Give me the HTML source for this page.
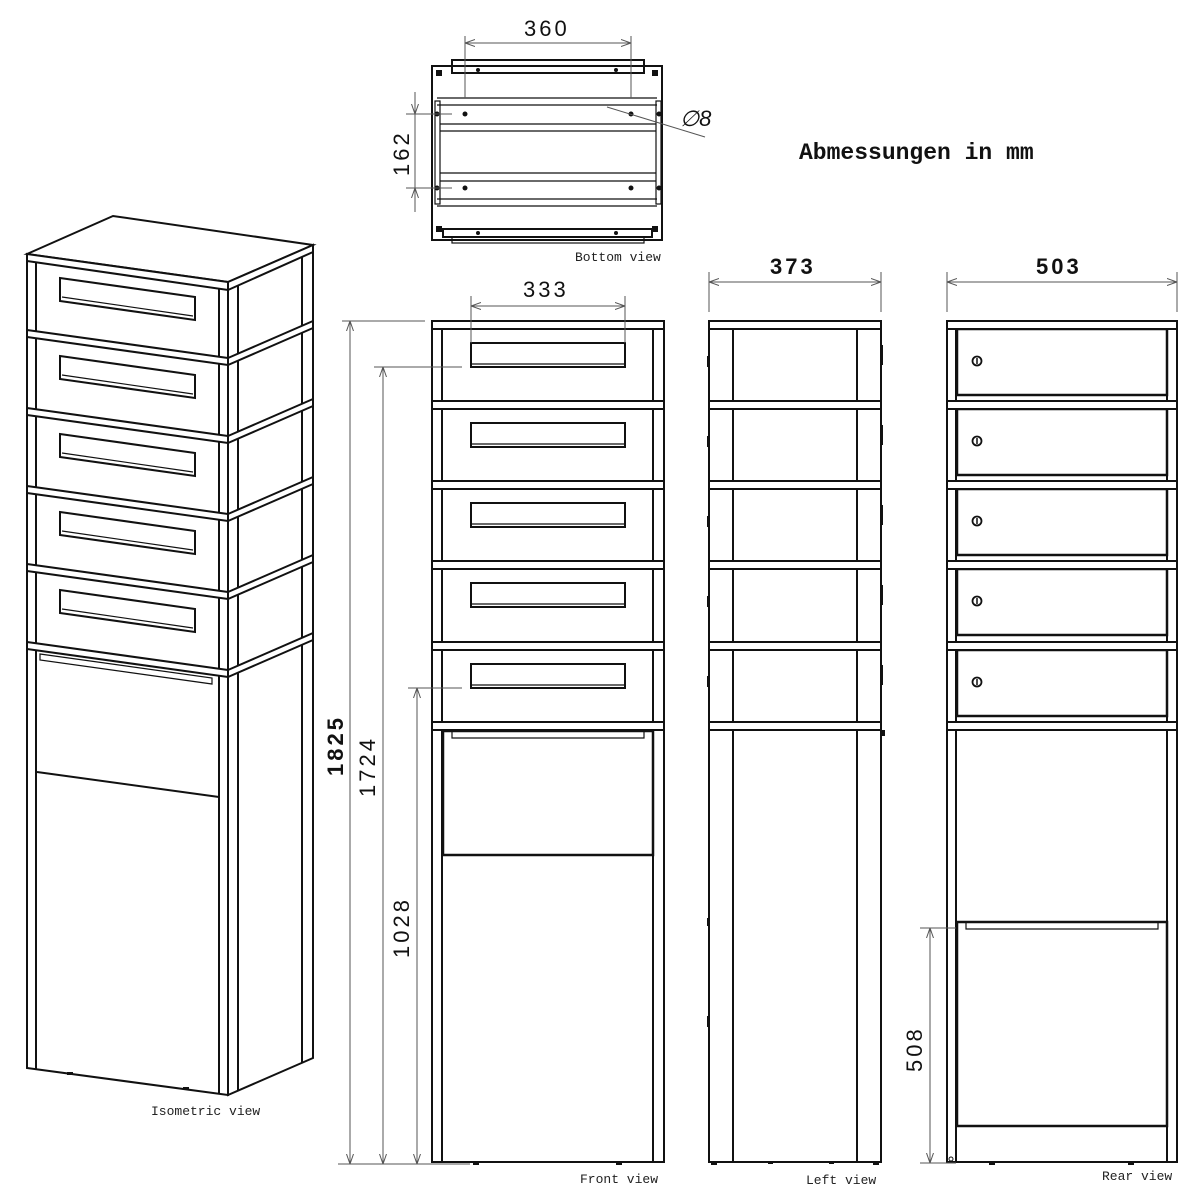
<!DOCTYPE html>
<html><head><meta charset="utf-8"><style>
html,body{margin:0;padding:0;background:#fff;}
svg{display:block;}
.o{fill:#fff;stroke:#111;stroke-width:2;}
.l{fill:none;stroke:#111;stroke-width:2;}
.t{fill:none;stroke:#111;stroke-width:1.2;}
.d{fill:none;stroke:#555;stroke-width:1;}
.lab{font-family:"Liberation Mono",monospace;font-size:13px;fill:#222;}
.dim{font-family:"Liberation Sans",sans-serif;font-size:22px;fill:#111;letter-spacing:3px;}
.dimb{font-family:"Liberation Sans",sans-serif;font-size:22px;font-weight:bold;fill:#111;letter-spacing:3px;}
</style></head><body>
<svg width="1200" height="1200" viewBox="0 0 1200 1200" xmlns="http://www.w3.org/2000/svg">
<defs>
<marker id="a" viewBox="0 0 10 10" refX="10" refY="5" markerWidth="10" markerHeight="10" orient="auto-start-reverse" markerUnits="userSpaceOnUse"><path d="M0,1.5 L10,5 L0,8.5" fill="none" stroke="#555" stroke-width="1"/></marker>
</defs>

<!-- ============ ISOMETRIC ============ -->
<g>
<polygon class="o" points="228,282 313,245 313,1058 228,1095"/>
<polygon class="o" points="27,254 228,282 228,1095 27,1068"/>
<line class="l" x1="36" y1="261" x2="36" y2="1069"/>
<line class="l" x1="219" y1="289" x2="219" y2="1094"/>
<line class="l" x1="238" y1="286" x2="238" y2="1091"/>
<line class="l" x1="302" y1="254" x2="302" y2="1063"/>
<polygon class="o" points="27,254 113,216 313,245 228,282"/>
<polygon class="o" points="27,254 228,282 228,290 27,261"/>
<polygon class="o" points="228,282 313,245 313,252 228,290"/>
<g>
<polygon class="o" points="27,330 228,358 228,365 27,337"/><polygon class="o" points="228,358 313,321 313,328 228,365"/>
<polygon class="o" points="27,408 228,436 228,443 27,415"/><polygon class="o" points="228,436 313,399 313,406 228,443"/>
<polygon class="o" points="27,486 228,514 228,521 27,493"/><polygon class="o" points="228,514 313,477 313,484 228,521"/>
<polygon class="o" points="27,564 228,592 228,599 27,571"/><polygon class="o" points="228,592 313,555 313,562 228,599"/>
<polygon class="o" points="27,642 228,670 228,677 27,649"/><polygon class="o" points="228,670 313,633 313,640 228,677"/>
</g>
<g>
<polygon class="l" points="60,278 195,297 195,320 60,301"/><line class="t" x1="62" y1="297" x2="193" y2="316"/>
<polygon class="l" points="60,356 195,375 195,398 60,379"/><line class="t" x1="62" y1="375" x2="193" y2="394"/>
<polygon class="l" points="60,434 195,453 195,476 60,457"/><line class="t" x1="62" y1="453" x2="193" y2="472"/>
<polygon class="l" points="60,512 195,531 195,554 60,535"/><line class="t" x1="62" y1="531" x2="193" y2="550"/>
<polygon class="l" points="60,590 195,609 195,632 60,613"/><line class="t" x1="62" y1="609" x2="193" y2="628"/>
</g>
<polygon class="t" points="40,654 212,678 212,684 40,660"/>
<line class="l" x1="37" y1="772" x2="219" y2="797"/>
<rect x="67" y="1072" width="6" height="3" fill="#111"/>
<rect x="183" y="1087" width="6" height="3" fill="#111"/>
</g>
<text class="lab" x="151" y="1115">Isometric view</text>

<!-- ============ BOTTOM VIEW ============ -->
<g>
<rect class="o" x="432" y="66" width="230" height="174"/>
<rect class="l" x="452" y="60" width="192" height="13"/>
<line class="t" x1="437" y1="98" x2="657" y2="98"/>
<line class="t" x1="437" y1="105" x2="657" y2="105"/>
<line class="t" x1="440" y1="124" x2="656" y2="124"/>
<line class="t" x1="440" y1="131" x2="656" y2="131"/>
<line class="t" x1="440" y1="173" x2="656" y2="173"/>
<line class="t" x1="440" y1="181" x2="656" y2="181"/>
<line class="t" x1="437" y1="199" x2="657" y2="199"/>
<line class="t" x1="437" y1="206" x2="657" y2="206"/>
<rect class="t" x="435" y="101" width="5" height="103" fill="none"/>
<rect class="t" x="656" y="101" width="5" height="103" fill="none"/>
<rect class="l" x="443" y="229" width="209" height="8"/>
<rect class="t" x="452" y="237" width="192" height="6"/>
<g fill="#111">
<circle cx="465" cy="114" r="2.5"/><circle cx="631" cy="114" r="2.5"/><circle cx="465" cy="188" r="2.5"/><circle cx="631" cy="188" r="2.5"/>
<circle cx="437" cy="114" r="2.5"/><circle cx="659" cy="114" r="2.5"/><circle cx="437" cy="188" r="2.5"/><circle cx="659" cy="188" r="2.5"/>
<circle cx="478" cy="70" r="2"/><circle cx="616" cy="70" r="2"/><circle cx="478" cy="233" r="2"/><circle cx="616" cy="233" r="2"/>
<rect x="436" y="70" width="6" height="6"/><rect x="652" y="70" width="6" height="6"/><rect x="436" y="226" width="6" height="6"/><rect x="652" y="226" width="6" height="6"/>
</g>
<line class="d" x1="465" y1="36" x2="465" y2="98"/>
<line class="d" x1="631" y1="36" x2="631" y2="98"/>
<line class="d" x1="465" y1="43" x2="631" y2="43" marker-start="url(#a)" marker-end="url(#a)"/>
<line class="d" x1="406" y1="114" x2="452" y2="114"/>
<line class="d" x1="406" y1="188" x2="452" y2="188"/>
<line class="d" x1="415" y1="92" x2="415" y2="114" marker-end="url(#a)"/>
<line class="d" x1="415" y1="212" x2="415" y2="188" marker-end="url(#a)"/>
<line class="d" x1="415" y1="114" x2="415" y2="188"/>
<line class="d" x1="607" y1="107" x2="705" y2="137"/>
</g>
<text class="dim" x="524" y="36">360</text>
<text class="dim" transform="translate(409,176) rotate(-90)">162</text>
<text x="680" y="126" font-family="Liberation Sans,sans-serif" font-size="22" font-style="italic" fill="#111">∅8</text>
<text class="lab" x="575" y="261">Bottom view</text>

<text x="799" y="159" font-family="Liberation Mono,monospace" font-size="23" font-weight="bold" fill="#111">Abmessungen in mm</text>

<!-- ============ FRONT VIEW ============ -->
<g>
<rect class="o" x="432" y="321" width="232" height="841"/>
<line class="l" x1="442" y1="321" x2="442" y2="1162"/>
<line class="l" x1="653" y1="321" x2="653" y2="1162"/>
<rect class="o" x="432" y="321" width="232" height="8"/>
<rect class="o" x="432" y="401" width="232" height="8"/>
<rect class="o" x="432" y="481" width="232" height="8"/>
<rect class="o" x="432" y="561" width="232" height="8"/>
<rect class="o" x="432" y="642" width="232" height="8"/>
<rect class="o" x="432" y="722" width="232" height="8"/>
<g>
<rect class="l" x="471" y="343" width="154" height="24"/><line class="t" x1="472" y1="364" x2="624" y2="364"/>
<rect class="l" x="471" y="423" width="154" height="24"/><line class="t" x1="472" y1="444" x2="624" y2="444"/>
<rect class="l" x="471" y="503" width="154" height="24"/><line class="t" x1="472" y1="524" x2="624" y2="524"/>
<rect class="l" x="471" y="583" width="154" height="24"/><line class="t" x1="472" y1="604" x2="624" y2="604"/>
<rect class="l" x="471" y="664" width="154" height="24"/><line class="t" x1="472" y1="685" x2="624" y2="685"/>
</g>
<rect x="443" y="731" width="210" height="124" fill="none" stroke="#111" stroke-width="2.5"/>
<polyline class="t" points="452,731 452,738 644,738 644,731"/>
<rect x="473" y="1162" width="6" height="3" fill="#111"/><rect x="616" y="1162" width="6" height="3" fill="#111"/>
</g>
<line class="d" x1="471" y1="296" x2="471" y2="343"/>
<line class="d" x1="625" y1="296" x2="625" y2="343"/>
<line class="d" x1="471" y1="306" x2="625" y2="306" marker-start="url(#a)" marker-end="url(#a)"/>
<text class="dim" x="523" y="297">333</text>
<line class="d" x1="342" y1="321" x2="425" y2="321"/>
<line class="d" x1="374" y1="367" x2="462" y2="367"/>
<line class="d" x1="408" y1="688" x2="462" y2="688"/>
<line class="d" x1="338" y1="1164" x2="470" y2="1164"/>
<line class="d" x1="350" y1="321" x2="350" y2="1164" marker-start="url(#a)" marker-end="url(#a)"/>
<line class="d" x1="383" y1="367" x2="383" y2="1164" marker-start="url(#a)" marker-end="url(#a)"/>
<line class="d" x1="417" y1="688" x2="417" y2="1164" marker-start="url(#a)" marker-end="url(#a)"/>
<text class="dimb" transform="translate(343,776) rotate(-90)">1825</text>
<text class="dim" transform="translate(375,797) rotate(-90)">1724</text>
<text class="dim" transform="translate(409,958) rotate(-90)">1028</text>
<text class="lab" x="580" y="1183">Front view</text>

<!-- ============ LEFT VIEW ============ -->
<g>
<rect class="o" x="709" y="321" width="172" height="841"/>
<line class="l" x1="733" y1="321" x2="733" y2="1162"/>
<line class="l" x1="857" y1="321" x2="857" y2="1162"/>
<rect class="o" x="709" y="321" width="172" height="8"/>
<rect class="o" x="709" y="401" width="172" height="8"/>
<rect class="o" x="709" y="481" width="172" height="8"/>
<rect class="o" x="709" y="561" width="172" height="8"/>
<rect class="o" x="709" y="642" width="172" height="8"/>
<rect class="o" x="709" y="722" width="172" height="8"/>
<g fill="#111">
<rect x="707" y="356" width="3" height="11"/><rect x="707" y="436" width="3" height="11"/><rect x="707" y="516" width="3" height="11"/><rect x="707" y="596" width="3" height="11"/><rect x="707" y="676" width="3" height="11"/>
<rect x="707" y="918" width="3" height="8"/><rect x="707" y="1016" width="3" height="11"/>
<rect x="881" y="345" width="2" height="20"/><rect x="881" y="425" width="2" height="20"/><rect x="881" y="505" width="2" height="20"/><rect x="881" y="585" width="2" height="20"/><rect x="881" y="665" width="2" height="20"/><rect x="881" y="730" width="4" height="6"/>
<rect x="711" y="1162" width="6" height="3"/><rect x="768" y="1162" width="5" height="2"/><rect x="829" y="1162" width="5" height="2"/><rect x="873" y="1162" width="6" height="3"/>
</g>
</g>
<line class="d" x1="709" y1="272" x2="709" y2="312"/>
<line class="d" x1="881" y1="272" x2="881" y2="312"/>
<line class="d" x1="709" y1="282" x2="881" y2="282" marker-start="url(#a)" marker-end="url(#a)"/>
<text class="dimb" x="770" y="274">373</text>
<text class="lab" x="806" y="1184">Left view</text>

<!-- ============ REAR VIEW ============ -->
<g>
<rect class="o" x="947" y="321" width="230" height="841"/>
<line class="l" x1="956" y1="321" x2="956" y2="1162"/>
<line class="l" x1="1167" y1="321" x2="1167" y2="1162"/>
<g>
<rect x="957" y="329" width="210" height="66" fill="#fff" stroke="#111" stroke-width="2.5"/>
<rect x="957" y="409" width="210" height="66" fill="#fff" stroke="#111" stroke-width="2.5"/>
<rect x="957" y="489" width="210" height="66" fill="#fff" stroke="#111" stroke-width="2.5"/>
<rect x="957" y="569" width="210" height="66" fill="#fff" stroke="#111" stroke-width="2.5"/>
<rect x="957" y="650" width="210" height="66" fill="#fff" stroke="#111" stroke-width="2.5"/>
</g>
<rect class="o" x="947" y="321" width="230" height="8"/>
<rect class="o" x="947" y="401" width="230" height="8"/>
<rect class="o" x="947" y="481" width="230" height="8"/>
<rect class="o" x="947" y="561" width="230" height="8"/>
<rect class="o" x="947" y="642" width="230" height="8"/>
<rect class="o" x="947" y="722" width="230" height="8"/>
<g fill="#fff" stroke="#111" stroke-width="1.8">
<circle cx="977" cy="361" r="4.5"/><circle cx="977" cy="441" r="4.5"/><circle cx="977" cy="521" r="4.5"/><circle cx="977" cy="601" r="4.5"/><circle cx="977" cy="682" r="4.5"/><circle cx="980" cy="1024" r="4.5"/>
</g>
<g stroke="#111" stroke-width="1.5"><line x1="977" y1="358" x2="977" y2="364"/><line x1="977" y1="438" x2="977" y2="444"/><line x1="977" y1="518" x2="977" y2="524"/><line x1="977" y1="598" x2="977" y2="604"/><line x1="977" y1="679" x2="977" y2="685"/><line x1="980" y1="1021" x2="980" y2="1027"/></g>
<rect x="957" y="922" width="210" height="204" fill="#fff" stroke="#111" stroke-width="2.5"/>
<polyline class="t" points="966,923 966,929 1158,929 1158,923"/>
<circle cx="951" cy="1159" r="2" fill="none" stroke="#111"/>
<rect x="989" y="1162" width="6" height="3" fill="#111"/><rect x="1128" y="1162" width="6" height="3" fill="#111"/>
</g>
<line class="d" x1="947" y1="272" x2="947" y2="312"/>
<line class="d" x1="1177" y1="272" x2="1177" y2="312"/>
<line class="d" x1="947" y1="282" x2="1177" y2="282" marker-start="url(#a)" marker-end="url(#a)"/>
<text class="dimb" x="1036" y="274">503</text>
<line class="d" x1="920" y1="928" x2="956" y2="928"/>
<line class="d" x1="920" y1="1163" x2="956" y2="1163"/>
<line class="d" x1="930" y1="928" x2="930" y2="1163" marker-start="url(#a)" marker-end="url(#a)"/>
<text class="dim" transform="translate(922,1072) rotate(-90)">508</text>
<text class="lab" x="1102" y="1180">Rear view</text>
</svg>
</body></html>
